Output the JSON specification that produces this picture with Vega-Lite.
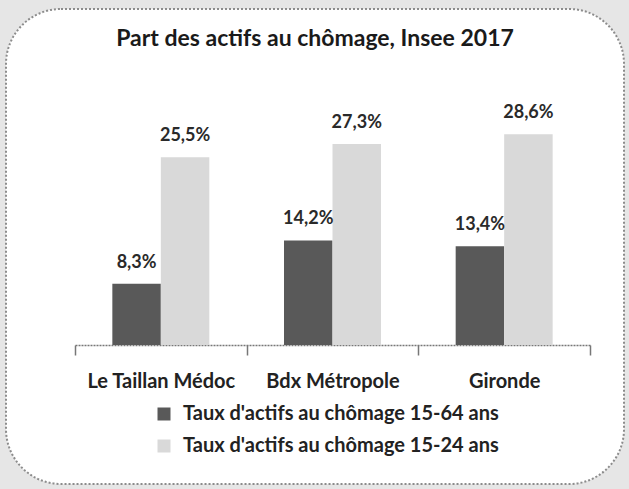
{
  "$schema": "https://vega.github.io/schema/vega-lite/v6.json",
  "width": 618,
  "height": 475,
  "autosize": {"type": "none"},
  "padding": {"left": 6, "top": 9, "right": 5, "bottom": 5},
  "background": "#e6e6e6",
  "config": {
    "view": {"fill": "white", "stroke": "#8c8c8c", "strokeWidth": 2, "strokeDash": [2, 2], "cornerRadius": 55},
    "locale": {"number": {"decimal": ",", "thousands": " ", "grouping": [3], "currency": ["", " €"]}},
    "font": "Lato"
  },
  "title": {
    "text": "Part des actifs au chômage, Insee 2017",
    "font": "Lato",
    "fontSize": 23,
    "fontWeight": "bold",
    "color": "#1a1a1a",
    "anchor": "middle",
    "dy": 46
  },
  "data": {
    "values": [
      {"zone": "Le Taillan Médoc", "serie": "Taux d'actifs au chômage 15-64 ans", "taux": 0.083},
      {"zone": "Le Taillan Médoc", "serie": "Taux d'actifs au chômage 15-24 ans", "taux": 0.255},
      {"zone": "Bdx Métropole", "serie": "Taux d'actifs au chômage 15-64 ans", "taux": 0.142},
      {"zone": "Bdx Métropole", "serie": "Taux d'actifs au chômage 15-24 ans", "taux": 0.273},
      {"zone": "Gironde", "serie": "Taux d'actifs au chômage 15-64 ans", "taux": 0.134},
      {"zone": "Gironde", "serie": "Taux d'actifs au chômage 15-24 ans", "taux": 0.286}
    ]
  },
  "encoding": {
    "x": {
      "field": "zone",
      "type": "nominal",
      "sort": null,
      "scale": {"range": [69, 584], "paddingInner": 0, "paddingOuter": 0},
      "axis": {
        "title": null,
        "orient": "bottom",
        "offset": -139,
        "tickBand": "extent",
        "ticks": true,
        "tickSize": 10,
        "tickColor": "#777777",
        "tickWidth": 1.5,
        "domainColor": "#777777",
        "domainWidth": 1.5,
        "domainDash": [2, 1],
        "labelFont": "Lato",
        "labelFontSize": 20,
        "labelFontWeight": "bold",
        "labelColor": "#222222",
        "labelPadding": 16,
        "labelAngle": 0
      }
    },
    "xOffset": {"field": "serie", "type": "nominal", "sort": null, "scale": {"paddingInner": 0, "paddingOuter": 0.77}},
    "y": {
      "field": "taux",
      "type": "quantitative",
      "scale": {"domain": [0, 0.3], "range": [336, 115], "zero": false, "nice": false},
      "axis": null
    }
  },
  "layer": [
    {
      "mark": {"type": "bar"},
      "encoding": {
        "y2": {"datum": 0},
        "color": {
          "field": "serie",
          "type": "nominal",
          "sort": null,
          "scale": {"domain": ["Taux d'actifs au chômage 15-64 ans", "Taux d'actifs au chômage 15-24 ans"], "range": ["#595959", "#d9d9d9"]},
          "legend": {
            "title": null,
            "orient": "none",
            "legendX": 148,
            "legendY": 395,
            "padding": 0,
            "symbolType": "square",
            "symbolSize": 169,
            "symbolStrokeWidth": 0,
            "labelFont": "Lato",
            "labelFontSize": 20,
            "labelFontWeight": "bold",
            "labelColor": "#222222",
            "labelLimit": 450,
            "rowPadding": 12,
            "labelOffset": 9
          }
        }
      }
    },
    {
      "mark": {"type": "text", "baseline": "bottom", "dy": -12, "fontSize": 18, "fontWeight": "bold", "color": "#2a2a2a", "font": "Lato"},
      "encoding": {"text": {"field": "taux", "type": "quantitative", "format": ".1%"}}
    }
  ]
}
